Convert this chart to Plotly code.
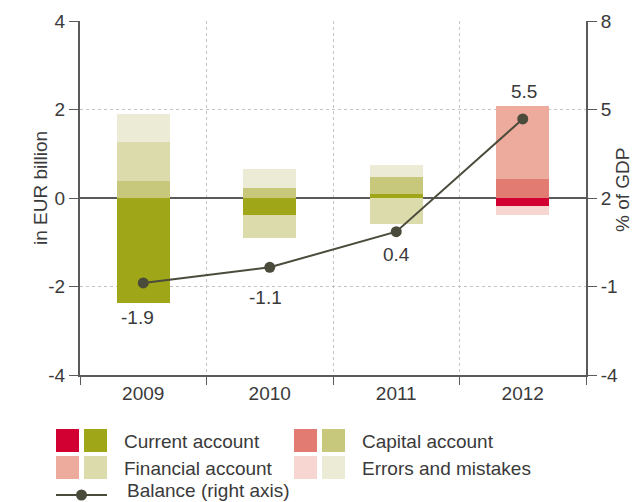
import plotly.graph_objects as go

years = ["2009", "2010", "2011", "2012"]
current_account = [-2.37, -0.38, 0.10, -0.17]
capital_account = [0.38, 0.23, 0.37, 0.43]
financial_account = [0.88, -0.52, -0.58, 1.65]
errors_mistakes = [0.64, 0.42, 0.27, -0.21]
balance_pos = [-0.88, -0.35, 0.86, 4.68]
balance_labels = ["-1.9", "-1.1", "0.4", "5.5"]

left_ticks = [-4, -2, 0, 2, 4]
left_ticktext = ["-4", "-2", "0", "2", "4"]
right_ticks = [-4, -1, 2, 5, 8]
right_ticktext = ["-4", "-1", "2", "5", "8"]

olive = {"cur": "#9fa617", "cap": "#c8c87d", "fin": "#dcdbab", "err": "#ecebd6"}
red = {"cur": "#d20032", "cap": "#e27b72", "fin": "#edab9e", "err": "#f7d5d0"}

FONT = "Liberation Sans, Arial, sans-serif"
TXT = "#3a3a3a"
AX = "#5a5a5a"
FS = 19

def cols(key):
    return [red[key] if y == "2012" else olive[key] for y in years]

fig = go.Figure()
for name, vals, key in [("Current account", current_account, "cur"),
                        ("Capital account", capital_account, "cap"),
                        ("Financial account", financial_account, "fin"),
                        ("Errors and mistakes", errors_mistakes, "err")]:
    fig.add_trace(go.Bar(x=years, y=vals, name=name, width=0.42,
                         marker=dict(color=cols(key), line=dict(width=0)),
                         showlegend=False))

fig.add_trace(go.Scatter(x=years, y=balance_pos, yaxis="y2", mode="lines+markers",
                         line=dict(color="#4b4b3c", width=2),
                         marker=dict(size=11, color="#4b4b3c"),
                         name="Balance (right axis)", showlegend=False))

shifts = [-35, -30, -23, 27]
xshifts = [-6, -4, 0, 1]
for i, (y, t) in enumerate(zip(balance_pos, balance_labels)):
    fig.add_annotation(x=i, y=y, xref="x", yref="y2", text=t, showarrow=False,
                       yshift=shifts[i], xshift=xshifts[i],
                       xanchor="center", yanchor="middle",
                       font=dict(size=FS, color=TXT, family=FONT))

# layout geometry in pixels
L, R, T, B = 80, 586, 21, 375
W, H = R - L, B - T

def px(x):
    return (x - L) / W

def py(y):
    return (B - y) / H

# legend
sq = 23
rows = [(429, [("Current account", "cur"), ("Capital account", "cap")]),
        (456, [("Financial account", "fin"), ("Errors and mistakes", "err")])]
colx = [(56, 84, 122), (294, 322, 360)]
for ry, items in rows:
    for (label, key), (x1, x2, tx) in zip(items, colx):
        for xx, c in [(x1, red[key]), (x2, olive[key])]:
            fig.add_shape(type="rect", xref="paper", yref="paper",
                          x0=px(xx), x1=px(xx + sq), y0=py(ry + sq), y1=py(ry),
                          fillcolor=c, line=dict(width=0))
        fig.add_annotation(xref="paper", yref="paper", x=px(tx), y=py(ry + sq / 2 + 1),
                           text=label, showarrow=False, xanchor="left", yanchor="middle",
                           font=dict(size=FS, color=TXT, family=FONT))
fig.add_shape(type="line", xref="paper", yref="paper", x0=px(56), x1=px(107),
              y0=py(495), y1=py(495), line=dict(color="#4b4b3c", width=2))
fig.add_shape(type="circle", xref="paper", yref="paper", x0=px(76), x1=px(87),
              y0=py(500.5), y1=py(489.5), fillcolor="#4b4b3c", line=dict(width=0))
fig.add_annotation(xref="paper", yref="paper", x=px(125), y=py(491),
                   text="Balance (right axis)", showarrow=False, xanchor="left",
                   yanchor="middle", font=dict(size=FS, color=TXT, family=FONT))

# axis titles
fig.add_annotation(xref="paper", yref="paper", x=px(40), y=py(188), text="in EUR billion",
                   textangle=-90, showarrow=False, xanchor="center", yanchor="middle",
                   font=dict(size=FS, color=TXT, family=FONT))
fig.add_annotation(xref="paper", yref="paper", x=px(622), y=py(190), text="% of GDP",
                   textangle=-90, showarrow=False, xanchor="center", yanchor="middle",
                   font=dict(size=FS, color=TXT, family=FONT))

fig.update_layout(
    width=638, height=502, barmode="relative", bargap=0,
    margin=dict(l=L, r=638 - R, t=T, b=502 - B, autoexpand=False),
    paper_bgcolor="white", plot_bgcolor="white",
    font=dict(family=FONT, size=FS, color=TXT),
    showlegend=False,
    xaxis=dict(type="category", tickson="boundaries", ticks="outside", ticklen=8,
               tickcolor=AX, showline=True, linecolor=AX, linewidth=2,
               showgrid=True, gridcolor="#c4c4c4", griddash="dot", gridwidth=1,
               range=[-0.5, 3.5], tickfont=dict(size=FS, color=TXT)),
    yaxis=dict(range=[-4, 4], tickvals=left_ticks, ticktext=left_ticktext,
               ticks="outside", ticklen=9,
               tickcolor=AX, showline=True, linecolor=AX, linewidth=2,
               showgrid=True, gridcolor="#c4c4c4", griddash="dot", gridwidth=1,
               zeroline=True, zerolinecolor=AX, zerolinewidth=2,
               tickfont=dict(size=FS, color=TXT)),
    yaxis2=dict(range=[-4, 8], tickvals=right_ticks, ticktext=right_ticktext,
                overlaying="y", side="right",
                ticks="outside", ticklen=9, tickcolor=AX, showline=True, linecolor=AX,
                linewidth=2, showgrid=False, zeroline=False,
                tickfont=dict(size=FS, color=TXT)),
)

fig.write_html("out.html", config={"displayModeBar": False},
               post_script="document.body.style.margin='0';")
